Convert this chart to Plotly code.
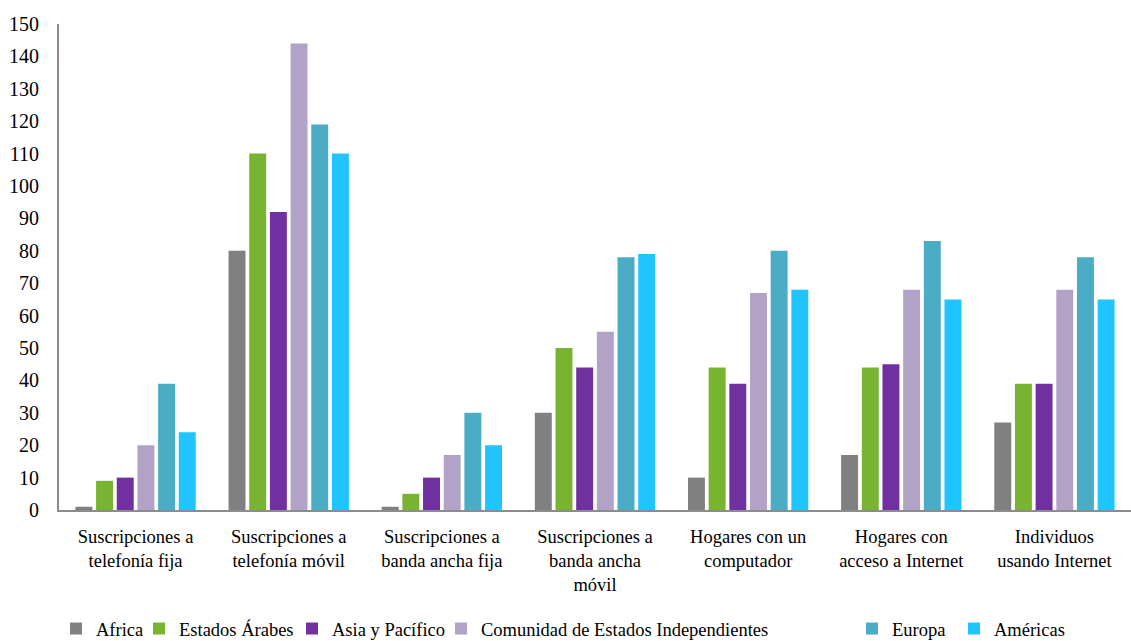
import plotly.graph_objects as go

categories = [
    "Suscripciones a<br>telefonía fija",
    "Suscripciones a<br>telefonía móvil",
    "Suscripciones a<br>banda ancha fija",
    "Suscripciones a<br>banda ancha<br>móvil",
    "Hogares con un<br>computador",
    "Hogares con<br>acceso a Internet",
    "Individuos<br>usando Internet",
]

africa = [1, 80, 1, 30, 10, 17, 27]
estados_arabes = [9, 110, 5, 50, 44, 44, 39]
asia_pacifico = [10, 92, 10, 44, 39, 45, 39]
cei = [20, 144, 17, 55, 67, 68, 68]
europa = [39, 119, 30, 78, 80, 83, 78]
americas = [24, 110, 20, 79, 68, 65, 65]

y_ticks = list(range(0, 151, 10))

# name, values, colour, legend entry width
series = [
    ("Africa", africa, "#808080", 38),
    ("Estados Árabes", estados_arabes, "#78B432", 108),
    ("Asia y Pacífico", asia_pacifico, "#7030A0", 104),
    ("Comunidad de Estados Independientes", cei, "#B3A2C7", 366),
    ("Europa", europa, "#4BACC6", 57),
    ("Américas", americas, "#20C4FF", 90),
]

fig = go.Figure()
for name, values, color, lw in series:
    fig.add_trace(go.Bar(x=categories, y=values, name=name, legendwidth=lw,
                         marker=dict(color=color, line=dict(width=0))))

font_family = "Liberation Serif"

fig.update_layout(
    width=1131, height=641,
    margin=dict(l=59, r=0, t=24, b=131, autoexpand=False),
    paper_bgcolor="white", plot_bgcolor="white",
    font=dict(family=font_family, size=18.5, color="#000000"),
    barmode="group", bargap=0.19, bargroupgap=0.18,
    showlegend=True,
    legend=dict(orientation="h", xref="container", yref="container",
                x=56 / 1131, xanchor="left", y=(641 - 629) / 641, yanchor="middle",
                font=dict(size=18.5), itemwidth=30, traceorder="normal",
                entrywidthmode="pixels"),
    xaxis=dict(showline=True, linecolor="#8C8C8C", linewidth=2, showgrid=False,
               ticks="", tickangle=0, ticklabelstandoff=9,
               tickfont=dict(size=18.5)),
    yaxis=dict(range=[0, 150], tickvals=y_ticks, showline=True, linecolor="#8C8C8C",
               linewidth=2, showgrid=False, zeroline=False, ticks="",
               ticklabelstandoff=14, tickfont=dict(size=20)),
)

fig.write_html("out.html")
